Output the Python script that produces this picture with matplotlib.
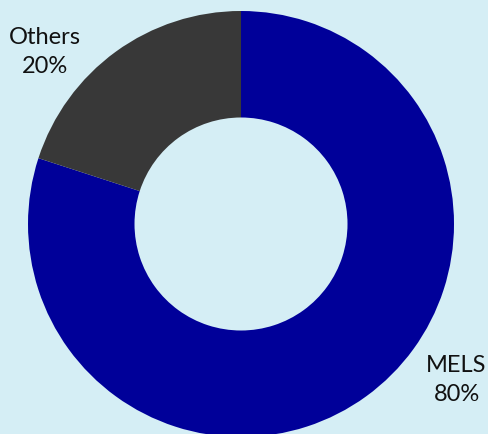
import matplotlib.pyplot as plt

# --- data ---
labels = ["MELS", "Others"]
shares = [80, 20]
colors = ["#000099", "#383838"]
label_pos = {"MELS": (1.012, -0.732), "Others": (-0.920, 0.808)}

BG = "#D5EEF5"

fig = plt.figure(figsize=(4.88, 4.34), dpi=100)
fig.patch.set_facecolor(BG)
ax = fig.add_axes([0, 0, 1, 1])
ax.set_facecolor(BG)

ax.pie(shares, colors=colors, startangle=90, counterclock=False, radius=1.0,
       wedgeprops=dict(width=0.5, edgecolor="none"))

for name, val in zip(labels, shares):
    x, y = label_pos[name]
    ax.text(x, y, f"{name}\n{val}%", ha="center", va="center", multialignment="center",
            fontsize=17, family="Lato", color="#111111", linespacing=1.45)

ax.set_xlim(-1.1315, 1.1596)
ax.set_ylim(-0.9859, 1.0516)
ax.set_aspect("auto")
ax.axis("off")

fig.savefig("out.png", dpi=100, facecolor=BG)
